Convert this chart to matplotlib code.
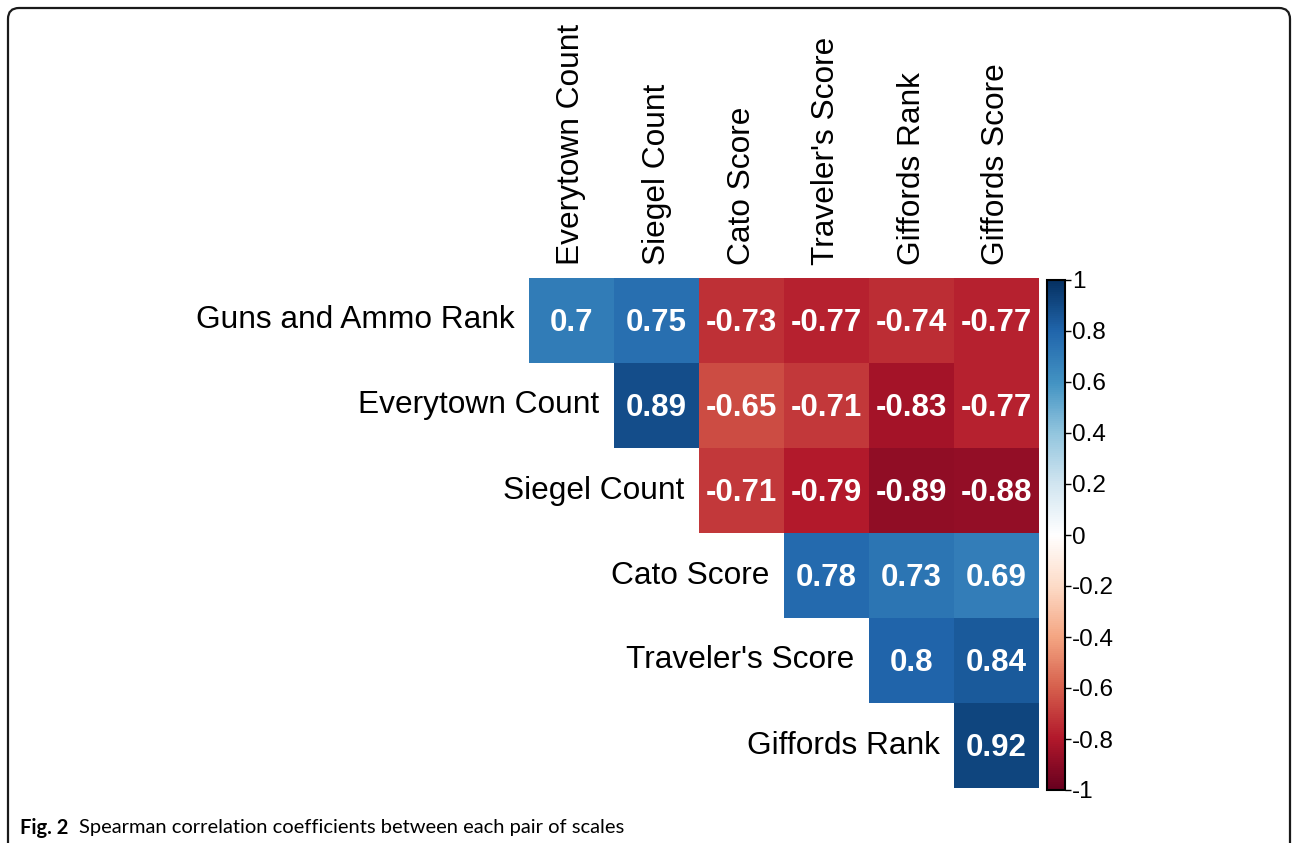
import numpy as np
import matplotlib
matplotlib.use("Agg")
import matplotlib.pyplot as plt
from matplotlib.colors import LinearSegmentedColormap
from matplotlib.patches import FancyBboxPatch
from matplotlib.transforms import IdentityTransform

# labels
row_labels = ["Guns and Ammo Rank", "Everytown Count", "Siegel Count",
              "Cato Score", "Traveler's Score", "Giffords Rank"]
col_labels = ["Everytown Count", "Siegel Count", "Cato Score",
              "Traveler's Score", "Giffords Rank", "Giffords Score"]

# upper triangle, one list per row (row i starts at column i)
r_guns = [0.70, 0.75, -0.73, -0.77, -0.74, -0.77]
r_everytown = [0.89, -0.65, -0.71, -0.83, -0.77]
r_siegel = [-0.71, -0.79, -0.89, -0.88]
r_cato = [0.78, 0.73, 0.69]
r_traveler = [0.80, 0.84]
r_giffords = [0.92]
rows = [r_guns, r_everytown, r_siegel, r_cato, r_traveler, r_giffords]

cbar_ticks = [-1, -0.8, -0.6, -0.4, -0.2, 0, 0.2, 0.4, 0.6, 0.8, 1]

# corrplot RdBu palette
cmap = LinearSegmentedColormap.from_list("rdbu", [
    "#67001F", "#B2182B", "#D6604D", "#F4A582", "#FDDBC7", "#FFFFFF",
    "#D1E5F0", "#92C5DE", "#4393C3", "#2166AC", "#053061"])

n = len(row_labels)
mat = np.full((n, n), np.nan)
for i, r in enumerate(rows):
    mat[i, i:i + len(r)] = r

W, H = 1292, 843
plt.rcParams["font.family"] = ["Liberation Sans", "DejaVu Sans"]
fig = plt.figure(figsize=(W / 100, H / 100), dpi=100)

def px_axes(left, top, right, bottom):
    return fig.add_axes([left / W, (H - bottom) / H, (right - left) / W, (bottom - top) / H])

ax = px_axes(529, 278, 1039, 788)
im = ax.imshow(np.ma.masked_invalid(mat), cmap=cmap, vmin=-1, vmax=1,
               aspect="auto", interpolation="nearest")
ax.set_xlim(-0.5, n - 0.5)
ax.set_ylim(n - 0.5, -0.5)
ax.axis("off")

for i in range(n):
    for j in range(n):
        if not np.isnan(mat[i, j]):
            ax.text(j, i + 0.03, "%g" % mat[i, j], ha="center", va="center",
                    color="white", fontsize=22.5, fontweight="bold")
    ax.text(i - 0.67, i, row_labels[i], ha="right", va="center",
            fontsize=22.8, color="black")
for j in range(n):
    ax.text(j, -0.65, col_labels[j], rotation=90, ha="center", va="bottom",
            fontsize=22.8, color="black")

cax = px_axes(1047, 280, 1065, 790)
cb = fig.colorbar(im, cax=cax, ticks=cbar_ticks)
cb.ax.set_yticklabels(["%g" % t for t in cbar_ticks])
cb.ax.tick_params(labelsize=17.5, length=4, width=1, pad=1, direction="out")
cb.outline.set_linewidth(1.5)

# rounded frame around the figure
frame = FancyBboxPatch((8, -30), W - 10, H - 8 + 30,
                       boxstyle="round,pad=0,rounding_size=11",
                       transform=IdentityTransform(), fill=False,
                       edgecolor="#1a1a1a", linewidth=1.6)
fig.patches.append(frame)

# caption
fig.text(20 / W, (H - 828) / H, "Fig. 2", fontsize=14.5, fontweight="bold",
         family=["Lato", "DejaVu Sans"], va="center", ha="left")
fig.text(79 / W, (H - 828) / H, "Spearman correlation coefficients between each pair of scales",
         fontsize=14.5, family=["Lato", "DejaVu Sans"], va="center", ha="left")

fig.savefig("out.png", dpi=100)
